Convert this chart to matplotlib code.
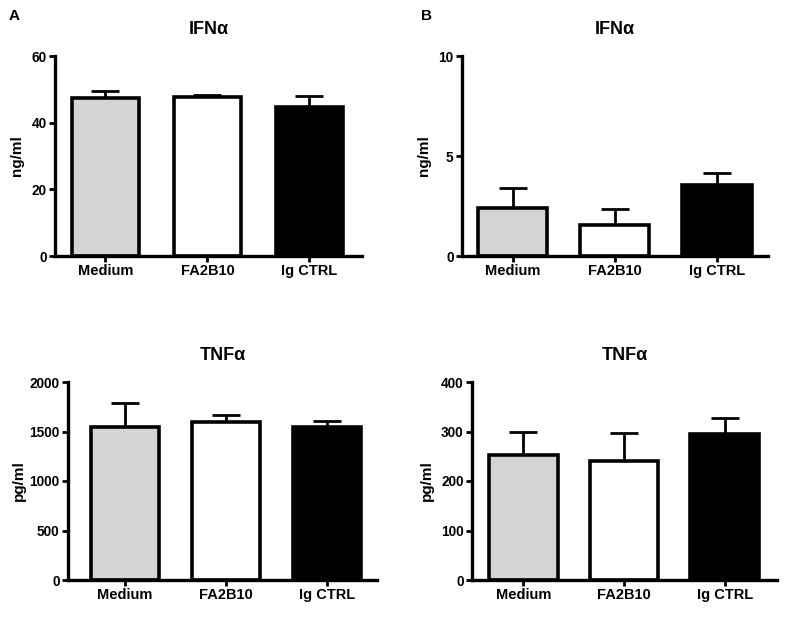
import matplotlib
matplotlib.use("Agg")
import matplotlib.pyplot as plt

plt.rcParams["font.family"] = ["Liberation Sans", "DejaVu Sans"]
plt.rcParams["font.weight"] = "bold"

# ---- data ----
groups = ["Medium", "FA2B10", "Ig CTRL"]
bar_colors = ["#d4d4d4", "#ffffff", "#000000"]

ifn_a_mean = [47.3, 47.8, 44.6]
ifn_a_err = [2.2, 0.5, 3.4]
tnf_a_mean = [1549, 1600, 1549]
tnf_a_err = [242, 67, 61]

ifn_b_mean = [2.4, 1.53, 3.53]
ifn_b_err = [0.98, 0.8, 0.6]
tnf_b_mean = [253, 240, 294]
tnf_b_err = [47, 57, 33]

W, H = 785, 622
fig = plt.figure(figsize=(W / 100, H / 100), dpi=100)


def panel(rect_px, means, errs, title, ylabel, ylim, yticks, xlim, width, ylab_x):
    x0, y_top, x1, y_bot = rect_px
    ax = fig.add_axes([x0 / W, (H - y_bot) / H, (x1 - x0) / W, (y_bot - y_top) / H])
    xs = list(range(len(groups)))
    ax.errorbar(xs, means, yerr=[[0] * len(errs), errs], fmt="none",
                ecolor="black", elinewidth=2, capsize=10, capthick=2, zorder=1)
    ax.bar(xs, means, width=width, color=bar_colors, edgecolor="black",
           linewidth=2.6, zorder=2)
    ax.set_xlim(*xlim)
    ax.set_ylim(*ylim)
    ax.set_yticks(yticks)
    ax.set_xticks(xs)
    ax.set_xticklabels(groups, fontsize=10.5, fontweight="bold")
    for lab in ax.get_yticklabels():
        lab.set_fontsize(9.8)
        lab.set_fontweight("bold")
    for s in ["top", "right"]:
        ax.spines[s].set_visible(False)
    for s in ["left", "bottom"]:
        ax.spines[s].set_linewidth(2.4)
    ax.tick_params(axis="both", width=2, length=4, pad=2)
    ax.set_title(title, fontsize=13, fontweight="bold", pad=16)
    ax.set_ylabel(ylabel, fontsize=11, fontweight="bold")
    ax.yaxis.set_label_coords((ylab_x - x0) / (x1 - x0), 0.5)
    return ax


panel((55, 56, 362, 256), ifn_a_mean, ifn_a_err, "IFN\u03b1", "ng/ml",
      (0, 60), [0, 20, 40, 60], (-0.495, 2.515), 0.65, 24)
panel((462, 56, 768, 256), ifn_b_mean, ifn_b_err, "IFN\u03b1", "ng/ml",
      (0, 10), [0, 5, 10], (-0.495, 2.50), 0.68, 431)
panel((68, 382, 377, 580), tnf_a_mean, tnf_a_err, "TNF\u03b1", "pg/ml",
      (0, 2000), [0, 500, 1000, 1500, 2000], (-0.56, 2.49), 0.67, 26)
panel((472, 382, 777, 580), tnf_b_mean, tnf_b_err, "TNF\u03b1", "pg/ml",
      (0, 400), [0, 100, 200, 300, 400], (-0.51, 2.52), 0.68, 434)

fig.text(14 / W, 1 - 16 / H, "A", fontsize=11, fontweight="bold", va="center", ha="center")
fig.text(426 / W, 1 - 16 / H, "B", fontsize=11, fontweight="bold", va="center", ha="center")

fig.savefig("out.png", dpi=100)
